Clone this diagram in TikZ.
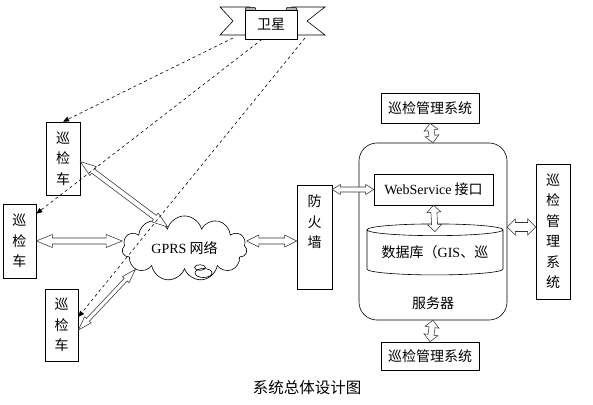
\documentclass[tikz,border=0pt]{standalone}
\usepackage{fontspec}
\setmainfont{Noto Sans CJK SC}
\newfontfamily\latin{Liberation Serif}
\usetikzlibrary{shapes.geometric,shapes.symbols,arrows.meta,calc}

\tikzset{
  box/.style={draw,line width=0.6pt,inner sep=0pt,align=center,font=\fontsize{14}{20.5}\selectfont},
  vbox/.style={box,minimum width=34pt},
  hbox/.style={box,minimum width=98pt,minimum height=30pt},
  sig/.style={dashed,line width=0.6pt,-{Triangle[length=6pt,width=5pt]}},
  hollow/.style={draw=black!80,line width=0.55pt,fill=white},
}

% hollow double arrow: shaft half width, head half width, head length, from, to
\newcommand\dblarrow[5]{%
  \path[hollow] let \p1=(#4), \p2=(#5),
    \n1={atan2(\y2-\y1,\x2-\x1)}, \n2={veclen(\x2-\x1,\y2-\y1)} in
    [shift={(\p1)},rotate=\n1]
    (0pt,0pt) -- (#3pt,#2pt) -- (#3pt,#1pt) -- ({\n2-#3pt},#1pt) -- ({\n2-#3pt},#2pt)
    -- (\n2,0pt) -- ({\n2-#3pt},-#2pt) -- ({\n2-#3pt},-#1pt) -- (#3pt,-#1pt)
    -- (#3pt,-#2pt) -- cycle;
}

\begin{document}
\begin{tikzpicture}[x=1pt,y=-1pt]
  \useasboundingbox (0,0) rectangle (593,404);

  \draw[line width=0.6pt] (220,7) -- (250,7) -- (250,35) -- (220,35) -- (233,21) -- cycle;
  \draw[line width=0.6pt] (325,7) -- (292,7) -- (292,35) -- (325,35) -- (307,21) -- cycle;
  \node[box,fill=white,minimum width=52pt,minimum height=29pt] (sat) at (271,24.5) {卫星};
  \filldraw[fill=gray!60,line width=0.5pt] (245,10) -- (246,7.5) -- (255,7.5) -- (256,10);
  \filldraw[fill=gray!60,line width=0.5pt] (286,10) -- (287,7.5) -- (296,7.5) -- (297,10);
  \coordinate (satL) at (233,38);
  \coordinate (satR) at (305,38);

  \node[vbox,minimum height=73pt] (veh1) at (63,158.5) {巡\\检\\车};
  \node[vbox,minimum width=33pt,minimum height=74pt] (veh2) at (19.5,241) {巡\\检\\车};
  \node[vbox,minimum width=33pt,minimum height=72pt] (veh3) at (61.5,325) {巡\\检\\车};

  \node[cloud,draw,line width=0.6pt,cloud puffs=11,aspect=2,inner sep=0pt,
    minimum width=125pt,minimum height=63pt,font=\fontsize{14}{16}\selectfont]
    (gprs) at (184.5,248.5) {{\latin GPRS} 网络};
  \draw[line width=0.6pt] (200,267.5) ellipse (5.5 and 2.8);
  \draw[line width=0.6pt] (203.5,273) ellipse (8.5 and 4.5);

  \node[vbox,minimum width=35pt,minimum height=104pt,text depth=31pt] (fw) at (314.5,237) {防\\火\\墙};

  \node[draw,line width=0.6pt,rounded corners=18pt,minimum width=148pt,minimum height=177pt] (srv) at (433,231.5) {};
  \node[font=\fontsize{14}{16}\selectfont] (srvname) at (433,303) {服务器};
  \node[box,fill=white,minimum width=119pt,minimum height=31pt] (ws) at (433.5,189.5) {{\latin WebService} 接口};
  \node[cylinder,draw,line width=0.6pt,shape border rotate=90,aspect=0.11,inner sep=0pt,
    minimum width=136pt,minimum height=51pt,font=\fontsize{14}{16}\selectfont]
    (db) at (435,252.5) {数据库（{\latin GIS}、巡};

  \node[hbox] (mgT) at (430,108) {巡检管理系统};
  \node[hbox,minimum height=28pt] (mgB) at (430,356) {巡检管理系统};
  \node[vbox,minimum height=135pt] (mgR) at (553,231.5) {巡\\检\\管\\理\\系\\统};

  \node[font=\fontsize{15.5}{18}\selectfont] (title) at (307,388) {系统总体设计图};

  \coordinate (srvR) at ([yshift=4.5pt]srv.east);
  \coordinate (dbtop) at ([yshift=-8pt]db.north);
  \dblarrow{3}{7}{7}{mgT.south}{srv.north}
  \dblarrow{3}{7}{7}{srv.south}{mgB.north}
  \dblarrow{4.5}{8}{8}{srvR}{srvR -| mgR.west}
  \dblarrow{2.5}{5}{8}{fw.east |- ws.west}{ws.west}
  \dblarrow{3}{7}{7}{ws.south}{dbtop}
  \dblarrow{3}{6.5}{16}{veh2.east}{veh2.east -| gprs.west}
  \dblarrow{3}{6}{12}{gprs.east |- veh2.east}{fw.west |- veh2.east}
  \dblarrow{2.5}{5.5}{16}{[yshift=-3pt]veh1.east}{gprs.128}
  \dblarrow{2}{4.5}{14}{[yshift=-5pt]veh3.east}{gprs.203}

  \draw[sig] (satL) -- (veh1.north);
  \draw[sig] ([xshift=-9pt]sat.south) -- ([yshift=-10pt]veh2.north east);
  \draw[sig] (satR) -- ([yshift=8pt]veh3.east);
\end{tikzpicture}
\end{document}
